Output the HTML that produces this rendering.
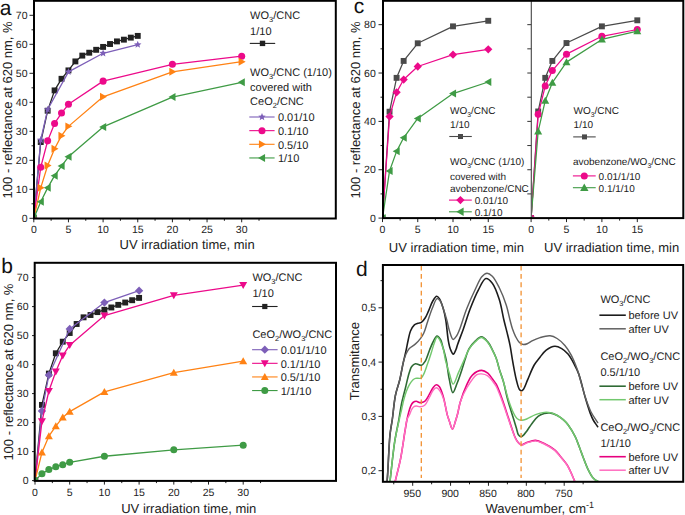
<!DOCTYPE html>
<html><head><meta charset="utf-8"><style>
html,body{margin:0;padding:0;background:#fff;}
body{width:685px;height:515px;overflow:hidden;}
svg{display:block;font-family:"Liberation Sans", sans-serif;text-rendering:geometricPrecision;}
</style></head><body>
<svg width="685" height="515" viewBox="0 0 685 515">
<rect width="685" height="515" fill="#fff"/>
<defs><clipPath id="ca"><rect x="34" y="1" width="301" height="216.5"/></clipPath><clipPath id="cb"><rect x="35" y="263.5" width="300" height="217"/></clipPath><clipPath id="cc"><rect x="383.5" y="1" width="299" height="216.5"/></clipPath><clipPath id="cd"><rect x="383.5" y="265.8" width="299" height="215.2"/></clipPath><clipPath id="cc1"><rect x="384" y="1" width="147" height="216"/></clipPath><clipPath id="cc2"><rect x="531.9" y="1" width="151" height="216"/></clipPath></defs>
<line x1="29.5" y1="218.3" x2="34" y2="218.3" stroke="#222" stroke-width="1" />
<text x="27.5" y="221.9" font-size="10.5" text-anchor="end" fill="#222" >0</text>
<line x1="29.5" y1="189.3" x2="34" y2="189.3" stroke="#222" stroke-width="1" />
<text x="27.5" y="192.9" font-size="10.5" text-anchor="end" fill="#222" >10</text>
<line x1="29.5" y1="160.3" x2="34" y2="160.3" stroke="#222" stroke-width="1" />
<text x="27.5" y="163.9" font-size="10.5" text-anchor="end" fill="#222" >20</text>
<line x1="29.5" y1="131.3" x2="34" y2="131.3" stroke="#222" stroke-width="1" />
<text x="27.5" y="134.9" font-size="10.5" text-anchor="end" fill="#222" >30</text>
<line x1="29.5" y1="102.3" x2="34" y2="102.3" stroke="#222" stroke-width="1" />
<text x="27.5" y="105.9" font-size="10.5" text-anchor="end" fill="#222" >40</text>
<line x1="29.5" y1="73.3" x2="34" y2="73.3" stroke="#222" stroke-width="1" />
<text x="27.5" y="76.9" font-size="10.5" text-anchor="end" fill="#222" >50</text>
<line x1="29.5" y1="44.3" x2="34" y2="44.3" stroke="#222" stroke-width="1" />
<text x="27.5" y="47.9" font-size="10.5" text-anchor="end" fill="#222" >60</text>
<line x1="29.5" y1="15.3" x2="34" y2="15.3" stroke="#222" stroke-width="1" />
<text x="27.5" y="18.9" font-size="10.5" text-anchor="end" fill="#222" >70</text>
<line x1="31.5" y1="203.8" x2="34" y2="203.8" stroke="#222" stroke-width="1" />
<line x1="31.5" y1="174.8" x2="34" y2="174.8" stroke="#222" stroke-width="1" />
<line x1="31.5" y1="145.8" x2="34" y2="145.8" stroke="#222" stroke-width="1" />
<line x1="31.5" y1="116.8" x2="34" y2="116.8" stroke="#222" stroke-width="1" />
<line x1="31.5" y1="87.8" x2="34" y2="87.8" stroke="#222" stroke-width="1" />
<line x1="31.5" y1="58.8" x2="34" y2="58.8" stroke="#222" stroke-width="1" />
<line x1="31.5" y1="29.8" x2="34" y2="29.8" stroke="#222" stroke-width="1" />
<line x1="33.8" y1="218.3" x2="33.8" y2="222.3" stroke="#222" stroke-width="1" />
<text x="33.8" y="233" font-size="10.5" text-anchor="middle" fill="#222" >0</text>
<line x1="68.45" y1="218.3" x2="68.45" y2="222.3" stroke="#222" stroke-width="1" />
<text x="68.45" y="233" font-size="10.5" text-anchor="middle" fill="#222" >5</text>
<line x1="103.1" y1="218.3" x2="103.1" y2="222.3" stroke="#222" stroke-width="1" />
<text x="103.1" y="233" font-size="10.5" text-anchor="middle" fill="#222" >10</text>
<line x1="137.75" y1="218.3" x2="137.75" y2="222.3" stroke="#222" stroke-width="1" />
<text x="137.75" y="233" font-size="10.5" text-anchor="middle" fill="#222" >15</text>
<line x1="172.4" y1="218.3" x2="172.4" y2="222.3" stroke="#222" stroke-width="1" />
<text x="172.4" y="233" font-size="10.5" text-anchor="middle" fill="#222" >20</text>
<line x1="207.05" y1="218.3" x2="207.05" y2="222.3" stroke="#222" stroke-width="1" />
<text x="207.05" y="233" font-size="10.5" text-anchor="middle" fill="#222" >25</text>
<line x1="241.7" y1="218.3" x2="241.7" y2="222.3" stroke="#222" stroke-width="1" />
<text x="241.7" y="233" font-size="10.5" text-anchor="middle" fill="#222" >30</text>
<line x1="51.12" y1="218.3" x2="51.12" y2="220.8" stroke="#222" stroke-width="1" />
<line x1="85.77" y1="218.3" x2="85.77" y2="220.8" stroke="#222" stroke-width="1" />
<line x1="120.42" y1="218.3" x2="120.42" y2="220.8" stroke="#222" stroke-width="1" />
<line x1="155.07" y1="218.3" x2="155.07" y2="220.8" stroke="#222" stroke-width="1" />
<line x1="189.72" y1="218.3" x2="189.72" y2="220.8" stroke="#222" stroke-width="1" />
<line x1="224.38" y1="218.3" x2="224.38" y2="220.8" stroke="#222" stroke-width="1" />
<line x1="259.02" y1="218.3" x2="259.02" y2="220.8" stroke="#222" stroke-width="1" />
<g clip-path="url(#ca)">
<polyline points="33.8,218.3 40.73,142.03 47.66,110.71 54.59,90.41 61.52,78.81 68.45,70.4 75.38,61.41 82.31,55.61 89.24,52.71 96.17,49.81 103.1,46.91 110.03,44.01 116.96,41.4 123.89,39.66 130.82,37.63 137.75,35.89" fill="none" stroke="#222222" stroke-width="1.3" stroke-linejoin="round" />
<rect x="30.85" y="215.35" width="5.9" height="5.9" fill="#222222"/>
<rect x="37.78" y="139.08" width="5.9" height="5.9" fill="#222222"/>
<rect x="44.71" y="107.76" width="5.9" height="5.9" fill="#222222"/>
<rect x="51.64" y="87.46" width="5.9" height="5.9" fill="#222222"/>
<rect x="58.57" y="75.86" width="5.9" height="5.9" fill="#222222"/>
<rect x="65.5" y="67.45" width="5.9" height="5.9" fill="#222222"/>
<rect x="72.43" y="58.46" width="5.9" height="5.9" fill="#222222"/>
<rect x="79.36" y="52.66" width="5.9" height="5.9" fill="#222222"/>
<rect x="86.29" y="49.76" width="5.9" height="5.9" fill="#222222"/>
<rect x="93.22" y="46.86" width="5.9" height="5.9" fill="#222222"/>
<rect x="100.15" y="43.96" width="5.9" height="5.9" fill="#222222"/>
<rect x="107.08" y="41.06" width="5.9" height="5.9" fill="#222222"/>
<rect x="114.01" y="38.45" width="5.9" height="5.9" fill="#222222"/>
<rect x="120.94" y="36.71" width="5.9" height="5.9" fill="#222222"/>
<rect x="127.87" y="34.68" width="5.9" height="5.9" fill="#222222"/>
<rect x="134.8" y="32.94" width="5.9" height="5.9" fill="#222222"/>
<polyline points="33.8,218.3 40.73,140 47.66,109.55 68.45,71.85 103.1,53.29 137.75,44.59" fill="none" stroke="#7d5fb8" stroke-width="1.3" stroke-linejoin="round" />
<polygon points="33.8,214.4 34.83,216.88 37.51,217.09 35.47,218.84 36.09,221.46 33.8,220.06 31.51,221.46 32.13,218.84 30.09,217.09 32.77,216.88" fill="#7d5fb8"/>
<polygon points="40.73,136.1 41.76,138.58 44.44,138.79 42.4,140.54 43.02,143.16 40.73,141.75 38.44,143.16 39.06,140.54 37.02,138.79 39.7,138.58" fill="#7d5fb8"/>
<polygon points="47.66,105.65 48.69,108.13 51.37,108.34 49.33,110.09 49.95,112.71 47.66,111.31 45.37,112.71 45.99,110.09 43.95,108.34 46.63,108.13" fill="#7d5fb8"/>
<polygon points="68.45,67.95 69.48,70.43 72.16,70.64 70.12,72.39 70.74,75.01 68.45,73.61 66.16,75.01 66.78,72.39 64.74,70.64 67.42,70.43" fill="#7d5fb8"/>
<polygon points="103.1,49.39 104.13,51.87 106.81,52.08 104.77,53.83 105.39,56.45 103.1,55.05 100.81,56.45 101.43,53.83 99.39,52.08 102.07,51.87" fill="#7d5fb8"/>
<polygon points="137.75,40.69 138.78,43.17 141.46,43.38 139.42,45.13 140.04,47.75 137.75,46.35 135.46,47.75 136.08,45.13 134.04,43.38 136.72,43.17" fill="#7d5fb8"/>
<polyline points="33.8,218.3 40.73,167.26 47.66,140.87 54.59,123.47 61.52,113.03 68.45,104.33 103.1,81.13 172.4,64.31 241.7,56.19" fill="none" stroke="#ec0a8a" stroke-width="1.3" stroke-linejoin="round" />
<circle cx="33.8" cy="218.3" r="3.51" fill="#ec0a8a"/>
<circle cx="40.73" cy="167.26" r="3.51" fill="#ec0a8a"/>
<circle cx="47.66" cy="140.87" r="3.51" fill="#ec0a8a"/>
<circle cx="54.59" cy="123.47" r="3.51" fill="#ec0a8a"/>
<circle cx="61.52" cy="113.03" r="3.51" fill="#ec0a8a"/>
<circle cx="68.45" cy="104.33" r="3.51" fill="#ec0a8a"/>
<circle cx="103.1" cy="81.13" r="3.51" fill="#ec0a8a"/>
<circle cx="172.4" cy="64.31" r="3.51" fill="#ec0a8a"/>
<circle cx="241.7" cy="56.19" r="3.51" fill="#ec0a8a"/>
<polyline points="33.8,218.3 40.73,187.85 47.66,165.52 54.59,148.7 61.52,135.65 68.45,126.37 103.1,96.79 172.4,71.85 241.7,61.7" fill="none" stroke="#ff8214" stroke-width="1.3" stroke-linejoin="round" />
<polygon points="37.73,218.3 30.71,222.29 30.71,214.31" fill="#ff8214"/>
<polygon points="44.66,187.85 37.64,191.84 37.64,183.86" fill="#ff8214"/>
<polygon points="51.59,165.52 44.57,169.51 44.57,161.53" fill="#ff8214"/>
<polygon points="58.52,148.7 51.5,152.69 51.5,144.71" fill="#ff8214"/>
<polygon points="65.45,135.65 58.43,139.64 58.43,131.66" fill="#ff8214"/>
<polygon points="72.38,126.37 65.36,130.36 65.36,122.38" fill="#ff8214"/>
<polygon points="107.03,96.79 100.01,100.78 100.01,92.8" fill="#ff8214"/>
<polygon points="176.33,71.85 169.31,75.84 169.31,67.86" fill="#ff8214"/>
<polygon points="245.63,61.7 238.61,65.69 238.61,57.71" fill="#ff8214"/>
<polyline points="33.8,218.3 40.73,201.77 47.66,187.85 54.59,175.67 61.52,166.1 68.45,156.82 103.1,126.95 172.4,97.08 241.7,82.29" fill="none" stroke="#3f9b45" stroke-width="1.3" stroke-linejoin="round" />
<polygon points="29.87,218.3 36.89,222.29 36.89,214.31" fill="#3f9b45"/>
<polygon points="36.8,201.77 43.82,205.76 43.82,197.78" fill="#3f9b45"/>
<polygon points="43.73,187.85 50.75,191.84 50.75,183.86" fill="#3f9b45"/>
<polygon points="50.66,175.67 57.68,179.66 57.68,171.68" fill="#3f9b45"/>
<polygon points="57.59,166.1 64.61,170.09 64.61,162.11" fill="#3f9b45"/>
<polygon points="64.52,156.82 71.54,160.81 71.54,152.83" fill="#3f9b45"/>
<polygon points="99.17,126.95 106.19,130.94 106.19,122.96" fill="#3f9b45"/>
<polygon points="168.47,97.08 175.49,101.07 175.49,93.09" fill="#3f9b45"/>
<polygon points="237.77,82.29 244.79,86.28 244.79,78.3" fill="#3f9b45"/>
</g>
<rect x="34" y="0.8" width="301.8" height="217.7" fill="none" stroke="#000" stroke-width="2"/>
<text x="-0.3" y="14.8" font-size="21" text-anchor="start" fill="#111" >a</text>
<text transform="translate(11.6,109.9) rotate(-90)" font-size="13" text-anchor="middle" fill="#222">100 - reflectance at 620 nm, %</text>
<text x="187.1" y="249" font-size="13" text-anchor="middle" fill="#222" >UV irradiation time, min</text>
<text x="250.1" y="18.7" font-size="11" fill="#222">WO<tspan font-size="7.48" dy="3.08">3</tspan><tspan dy="-3.08">/CNC</tspan></text>
<text x="250.1" y="34.5" font-size="11" text-anchor="start" fill="#222" >1/10</text>
<line x1="249.8" y1="43.4" x2="275.2" y2="43.4" stroke="#222222" stroke-width="1.1" />
<rect x="259.8" y="40.7" width="5.4" height="5.4" fill="#222222"/>
<text x="250.1" y="75.8" font-size="11" fill="#222">WO<tspan font-size="7.48" dy="3.08">3</tspan><tspan dy="-3.08">/CNC (1/10)</tspan></text>
<text x="250.1" y="91.4" font-size="11" text-anchor="start" fill="#222" >covered with</text>
<text x="250.1" y="105" font-size="11" fill="#222">CeO<tspan font-size="7.48" dy="3.08">2</tspan><tspan dy="-3.08">/CNC</tspan></text>
<line x1="249.3" y1="117" x2="274.6" y2="117" stroke="#7d5fb8" stroke-width="1.1" />
<polygon points="262,113.1 263.03,115.58 265.71,115.79 263.67,117.54 264.29,120.16 262,118.75 259.71,120.16 260.33,117.54 258.29,115.79 260.97,115.58" fill="#7d5fb8"/>
<text x="277.9" y="121.3" font-size="11" text-anchor="start" fill="#222" >0.01/10</text>
<line x1="249.3" y1="130.65" x2="274.6" y2="130.65" stroke="#ec0a8a" stroke-width="1.1" />
<circle cx="262" cy="130.65" r="3.51" fill="#ec0a8a"/>
<text x="277.9" y="134.95" font-size="11" text-anchor="start" fill="#222" >0.1/10</text>
<line x1="249.3" y1="144.3" x2="274.6" y2="144.3" stroke="#ff8214" stroke-width="1.1" />
<polygon points="265.93,144.3 258.91,148.29 258.91,140.31" fill="#ff8214"/>
<text x="277.9" y="148.6" font-size="11" text-anchor="start" fill="#222" >0.5/10</text>
<line x1="249.3" y1="157.95" x2="274.6" y2="157.95" stroke="#3f9b45" stroke-width="1.1" />
<polygon points="258.07,157.95 265.09,161.94 265.09,153.96" fill="#3f9b45"/>
<text x="277.9" y="162.25" font-size="11" text-anchor="start" fill="#222" >1/10</text>
<line x1="32" y1="480.6" x2="35" y2="480.6" stroke="#222" stroke-width="1" />
<text x="28.5" y="484.2" font-size="10.5" text-anchor="end" fill="#222" >0</text>
<line x1="32" y1="451.6" x2="35" y2="451.6" stroke="#222" stroke-width="1" />
<text x="28.5" y="455.2" font-size="10.5" text-anchor="end" fill="#222" >10</text>
<line x1="32" y1="422.6" x2="35" y2="422.6" stroke="#222" stroke-width="1" />
<text x="28.5" y="426.2" font-size="10.5" text-anchor="end" fill="#222" >20</text>
<line x1="32" y1="393.6" x2="35" y2="393.6" stroke="#222" stroke-width="1" />
<text x="28.5" y="397.2" font-size="10.5" text-anchor="end" fill="#222" >30</text>
<line x1="32" y1="364.6" x2="35" y2="364.6" stroke="#222" stroke-width="1" />
<text x="28.5" y="368.2" font-size="10.5" text-anchor="end" fill="#222" >40</text>
<line x1="32" y1="335.6" x2="35" y2="335.6" stroke="#222" stroke-width="1" />
<text x="28.5" y="339.2" font-size="10.5" text-anchor="end" fill="#222" >50</text>
<line x1="32" y1="306.6" x2="35" y2="306.6" stroke="#222" stroke-width="1" />
<text x="28.5" y="310.2" font-size="10.5" text-anchor="end" fill="#222" >60</text>
<line x1="32" y1="277.6" x2="35" y2="277.6" stroke="#222" stroke-width="1" />
<text x="28.5" y="281.2" font-size="10.5" text-anchor="end" fill="#222" >70</text>
<line x1="35" y1="480.6" x2="35" y2="484.6" stroke="#222" stroke-width="1" />
<text x="35" y="495.5" font-size="10.5" text-anchor="middle" fill="#222" >0</text>
<line x1="69.7" y1="480.6" x2="69.7" y2="484.6" stroke="#222" stroke-width="1" />
<text x="69.7" y="495.5" font-size="10.5" text-anchor="middle" fill="#222" >5</text>
<line x1="104.4" y1="480.6" x2="104.4" y2="484.6" stroke="#222" stroke-width="1" />
<text x="104.4" y="495.5" font-size="10.5" text-anchor="middle" fill="#222" >10</text>
<line x1="139.1" y1="480.6" x2="139.1" y2="484.6" stroke="#222" stroke-width="1" />
<text x="139.1" y="495.5" font-size="10.5" text-anchor="middle" fill="#222" >15</text>
<line x1="173.8" y1="480.6" x2="173.8" y2="484.6" stroke="#222" stroke-width="1" />
<text x="173.8" y="495.5" font-size="10.5" text-anchor="middle" fill="#222" >20</text>
<line x1="208.5" y1="480.6" x2="208.5" y2="484.6" stroke="#222" stroke-width="1" />
<text x="208.5" y="495.5" font-size="10.5" text-anchor="middle" fill="#222" >25</text>
<line x1="243.2" y1="480.6" x2="243.2" y2="484.6" stroke="#222" stroke-width="1" />
<text x="243.2" y="495.5" font-size="10.5" text-anchor="middle" fill="#222" >30</text>
<line x1="52.35" y1="480.6" x2="52.35" y2="483.1" stroke="#222" stroke-width="1" />
<line x1="87.05" y1="480.6" x2="87.05" y2="483.1" stroke="#222" stroke-width="1" />
<line x1="121.75" y1="480.6" x2="121.75" y2="483.1" stroke="#222" stroke-width="1" />
<line x1="156.45" y1="480.6" x2="156.45" y2="483.1" stroke="#222" stroke-width="1" />
<line x1="191.15" y1="480.6" x2="191.15" y2="483.1" stroke="#222" stroke-width="1" />
<line x1="225.85" y1="480.6" x2="225.85" y2="483.1" stroke="#222" stroke-width="1" />
<line x1="260.55" y1="480.6" x2="260.55" y2="483.1" stroke="#222" stroke-width="1" />
<g clip-path="url(#cb)">
<polyline points="35,480.6 41.94,404.91 48.88,373.59 55.82,353.29 62.76,341.69 69.7,332.99 76.64,324 83.58,317.33 90.52,315.01 97.46,312.11 104.4,309.79 111.34,307.47 118.28,304.86 125.22,302.54 132.16,300.22 139.1,297.9" fill="none" stroke="#222222" stroke-width="1.3" stroke-linejoin="round" />
<rect x="32.05" y="477.65" width="5.9" height="5.9" fill="#222222"/>
<rect x="38.99" y="401.96" width="5.9" height="5.9" fill="#222222"/>
<rect x="45.93" y="370.64" width="5.9" height="5.9" fill="#222222"/>
<rect x="52.87" y="350.34" width="5.9" height="5.9" fill="#222222"/>
<rect x="59.81" y="338.74" width="5.9" height="5.9" fill="#222222"/>
<rect x="66.75" y="330.04" width="5.9" height="5.9" fill="#222222"/>
<rect x="73.69" y="321.05" width="5.9" height="5.9" fill="#222222"/>
<rect x="80.63" y="314.38" width="5.9" height="5.9" fill="#222222"/>
<rect x="87.57" y="312.06" width="5.9" height="5.9" fill="#222222"/>
<rect x="94.51" y="309.16" width="5.9" height="5.9" fill="#222222"/>
<rect x="101.45" y="306.84" width="5.9" height="5.9" fill="#222222"/>
<rect x="108.39" y="304.52" width="5.9" height="5.9" fill="#222222"/>
<rect x="115.33" y="301.91" width="5.9" height="5.9" fill="#222222"/>
<rect x="122.27" y="299.59" width="5.9" height="5.9" fill="#222222"/>
<rect x="129.21" y="297.27" width="5.9" height="5.9" fill="#222222"/>
<rect x="136.15" y="294.95" width="5.9" height="5.9" fill="#222222"/>
<polyline points="35,480.6 41.94,411 48.88,375.04 69.7,328.93 104.4,302.54 139.1,290.65" fill="none" stroke="#7d5fb8" stroke-width="1.3" stroke-linejoin="round" />
<polygon points="35,476.46 39.14,480.6 35,484.74 30.86,480.6" fill="#7d5fb8"/>
<polygon points="41.94,406.86 46.08,411 41.94,415.14 37.8,411" fill="#7d5fb8"/>
<polygon points="48.88,370.9 53.02,375.04 48.88,379.18 44.74,375.04" fill="#7d5fb8"/>
<polygon points="69.7,324.79 73.84,328.93 69.7,333.07 65.56,328.93" fill="#7d5fb8"/>
<polygon points="104.4,298.4 108.54,302.54 104.4,306.68 100.26,302.54" fill="#7d5fb8"/>
<polygon points="139.1,286.51 143.24,290.65 139.1,294.79 134.96,290.65" fill="#7d5fb8"/>
<polyline points="35,480.6 41.94,421.44 48.88,390.99 55.82,371.56 62.76,355.61 69.7,345.17 104.4,315.59 173.8,295.29 243.2,285.14" fill="none" stroke="#ec0a8a" stroke-width="1.3" stroke-linejoin="round" />
<polygon points="35,484.53 38.99,477.51 31.01,477.51" fill="#ec0a8a"/>
<polygon points="41.94,425.37 45.93,418.35 37.95,418.35" fill="#ec0a8a"/>
<polygon points="48.88,394.92 52.87,387.9 44.89,387.9" fill="#ec0a8a"/>
<polygon points="55.82,375.49 59.81,368.47 51.83,368.47" fill="#ec0a8a"/>
<polygon points="62.76,359.54 66.75,352.52 58.77,352.52" fill="#ec0a8a"/>
<polygon points="69.7,349.1 73.69,342.08 65.71,342.08" fill="#ec0a8a"/>
<polygon points="104.4,319.52 108.39,312.5 100.41,312.5" fill="#ec0a8a"/>
<polygon points="173.8,299.22 177.79,292.2 169.81,292.2" fill="#ec0a8a"/>
<polygon points="243.2,289.07 247.19,282.05 239.21,282.05" fill="#ec0a8a"/>
<polyline points="35,480.6 41.94,452.47 48.88,436.23 55.82,426.08 62.76,417.38 69.7,411.58 104.4,391.86 173.8,372.72 243.2,361.12" fill="none" stroke="#ff8214" stroke-width="1.3" stroke-linejoin="round" />
<polygon points="35,476.67 38.99,483.69 31.01,483.69" fill="#ff8214"/>
<polygon points="41.94,448.54 45.93,455.56 37.95,455.56" fill="#ff8214"/>
<polygon points="48.88,432.3 52.87,439.32 44.89,439.32" fill="#ff8214"/>
<polygon points="55.82,422.15 59.81,429.17 51.83,429.17" fill="#ff8214"/>
<polygon points="62.76,413.45 66.75,420.47 58.77,420.47" fill="#ff8214"/>
<polygon points="69.7,407.65 73.69,414.67 65.71,414.67" fill="#ff8214"/>
<polygon points="104.4,387.93 108.39,394.95 100.41,394.95" fill="#ff8214"/>
<polygon points="173.8,368.79 177.79,375.81 169.81,375.81" fill="#ff8214"/>
<polygon points="243.2,357.19 247.19,364.21 239.21,364.21" fill="#ff8214"/>
<polyline points="35,480.6 41.94,473.64 48.88,469.58 55.82,466.68 62.76,464.65 69.7,462.33 104.4,456.24 173.8,449.86 243.2,445.22" fill="none" stroke="#3f9b45" stroke-width="1.3" stroke-linejoin="round" />
<circle cx="35" cy="480.6" r="3.51" fill="#3f9b45"/>
<circle cx="41.94" cy="473.64" r="3.51" fill="#3f9b45"/>
<circle cx="48.88" cy="469.58" r="3.51" fill="#3f9b45"/>
<circle cx="55.82" cy="466.68" r="3.51" fill="#3f9b45"/>
<circle cx="62.76" cy="464.65" r="3.51" fill="#3f9b45"/>
<circle cx="69.7" cy="462.33" r="3.51" fill="#3f9b45"/>
<circle cx="104.4" cy="456.24" r="3.51" fill="#3f9b45"/>
<circle cx="173.8" cy="449.86" r="3.51" fill="#3f9b45"/>
<circle cx="243.2" cy="445.22" r="3.51" fill="#3f9b45"/>
</g>
<rect x="34.7" y="262.8" width="301.3" height="218.1" fill="none" stroke="#000" stroke-width="2"/>
<text x="1.2" y="272.8" font-size="21" text-anchor="start" fill="#111" >b</text>
<text transform="translate(12.6,372.1) rotate(-90)" font-size="13" text-anchor="middle" fill="#222">100 - reflectance at 620 nm, %</text>
<text x="188.8" y="512.9" font-size="13" text-anchor="middle" fill="#222" >UV irradiation time, min</text>
<text x="252.4" y="281.2" font-size="11" fill="#222">WO<tspan font-size="7.48" dy="3.08">3</tspan><tspan dy="-3.08">/CNC</tspan></text>
<text x="252.4" y="297.2" font-size="11" text-anchor="start" fill="#222" >1/10</text>
<line x1="252.1" y1="306.5" x2="277.6" y2="306.5" stroke="#222222" stroke-width="1.1" />
<rect x="262.2" y="303.9" width="5.2" height="5.2" fill="#222222"/>
<text x="252.4" y="337.9" font-size="11" fill="#222">CeO<tspan font-size="7.48" dy="3.08">2</tspan><tspan dy="-3.08">/WO</tspan><tspan font-size="7.48" dy="3.08">3</tspan><tspan dy="-3.08">/CNC</tspan></text>
<line x1="252.1" y1="349.7" x2="277.6" y2="349.7" stroke="#7d5fb8" stroke-width="1.1" />
<polygon points="264.8,345.56 268.94,349.7 264.8,353.84 260.66,349.7" fill="#7d5fb8"/>
<text x="280.7" y="354" font-size="11" text-anchor="start" fill="#222" >0.01/1/10</text>
<line x1="252.1" y1="363.32" x2="277.6" y2="363.32" stroke="#ec0a8a" stroke-width="1.1" />
<polygon points="264.8,367.25 268.79,360.23 260.81,360.23" fill="#ec0a8a"/>
<text x="280.7" y="367.62" font-size="11" text-anchor="start" fill="#222" >0.1/1/10</text>
<line x1="252.1" y1="376.94" x2="277.6" y2="376.94" stroke="#ff8214" stroke-width="1.1" />
<polygon points="264.8,373.01 268.79,380.03 260.81,380.03" fill="#ff8214"/>
<text x="280.7" y="381.24" font-size="11" text-anchor="start" fill="#222" >0.5/1/10</text>
<line x1="252.1" y1="390.56" x2="277.6" y2="390.56" stroke="#3f9b45" stroke-width="1.1" />
<circle cx="264.8" cy="390.56" r="3.51" fill="#3f9b45"/>
<text x="280.7" y="394.86" font-size="11" text-anchor="start" fill="#222" >1/1/10</text>
<line x1="378.5" y1="218.1" x2="383" y2="218.1" stroke="#222" stroke-width="1" />
<text x="375.8" y="221.7" font-size="10.5" text-anchor="end" fill="#222" >0</text>
<line x1="378.5" y1="169.74" x2="383" y2="169.74" stroke="#222" stroke-width="1" />
<text x="375.8" y="173.34" font-size="10.5" text-anchor="end" fill="#222" >20</text>
<line x1="378.5" y1="121.38" x2="383" y2="121.38" stroke="#222" stroke-width="1" />
<text x="375.8" y="124.98" font-size="10.5" text-anchor="end" fill="#222" >40</text>
<line x1="378.5" y1="73.02" x2="383" y2="73.02" stroke="#222" stroke-width="1" />
<text x="375.8" y="76.62" font-size="10.5" text-anchor="end" fill="#222" >60</text>
<line x1="378.5" y1="24.66" x2="383" y2="24.66" stroke="#222" stroke-width="1" />
<text x="375.8" y="28.26" font-size="10.5" text-anchor="end" fill="#222" >80</text>
<line x1="380.5" y1="193.92" x2="383" y2="193.92" stroke="#222" stroke-width="1" />
<line x1="380.5" y1="145.56" x2="383" y2="145.56" stroke="#222" stroke-width="1" />
<line x1="380.5" y1="97.2" x2="383" y2="97.2" stroke="#222" stroke-width="1" />
<line x1="380.5" y1="48.84" x2="383" y2="48.84" stroke="#222" stroke-width="1" />
<line x1="527.3" y1="193.92" x2="531.3" y2="193.92" stroke="#333" stroke-width="1" />
<line x1="527.3" y1="169.74" x2="531.3" y2="169.74" stroke="#333" stroke-width="1" />
<line x1="527.3" y1="145.56" x2="531.3" y2="145.56" stroke="#333" stroke-width="1" />
<line x1="527.3" y1="121.38" x2="531.3" y2="121.38" stroke="#333" stroke-width="1" />
<line x1="527.3" y1="97.2" x2="531.3" y2="97.2" stroke="#333" stroke-width="1" />
<line x1="527.3" y1="73.02" x2="531.3" y2="73.02" stroke="#333" stroke-width="1" />
<line x1="527.3" y1="48.84" x2="531.3" y2="48.84" stroke="#333" stroke-width="1" />
<line x1="527.3" y1="24.66" x2="531.3" y2="24.66" stroke="#333" stroke-width="1" />
<line x1="382.5" y1="218.1" x2="382.5" y2="222.1" stroke="#222" stroke-width="1" />
<text x="382.5" y="233" font-size="10.5" text-anchor="middle" fill="#222" >0</text>
<line x1="417.75" y1="218.1" x2="417.75" y2="222.1" stroke="#222" stroke-width="1" />
<text x="417.75" y="233" font-size="10.5" text-anchor="middle" fill="#222" >5</text>
<line x1="453" y1="218.1" x2="453" y2="222.1" stroke="#222" stroke-width="1" />
<text x="453" y="233" font-size="10.5" text-anchor="middle" fill="#222" >10</text>
<line x1="488.25" y1="218.1" x2="488.25" y2="222.1" stroke="#222" stroke-width="1" />
<text x="488.25" y="233" font-size="10.5" text-anchor="middle" fill="#222" >15</text>
<line x1="400.12" y1="218.1" x2="400.12" y2="220.6" stroke="#222" stroke-width="1" />
<line x1="435.38" y1="218.1" x2="435.38" y2="220.6" stroke="#222" stroke-width="1" />
<line x1="470.62" y1="218.1" x2="470.62" y2="220.6" stroke="#222" stroke-width="1" />
<line x1="531.1" y1="218.1" x2="531.1" y2="222.1" stroke="#222" stroke-width="1" />
<text x="531.1" y="233" font-size="10.5" text-anchor="middle" fill="#222" >0</text>
<line x1="566.5" y1="218.1" x2="566.5" y2="222.1" stroke="#222" stroke-width="1" />
<text x="566.5" y="233" font-size="10.5" text-anchor="middle" fill="#222" >5</text>
<line x1="601.9" y1="218.1" x2="601.9" y2="222.1" stroke="#222" stroke-width="1" />
<text x="601.9" y="233" font-size="10.5" text-anchor="middle" fill="#222" >10</text>
<line x1="637.3" y1="218.1" x2="637.3" y2="222.1" stroke="#222" stroke-width="1" />
<text x="637.3" y="233" font-size="10.5" text-anchor="middle" fill="#222" >15</text>
<line x1="548.8" y1="218.1" x2="548.8" y2="220.6" stroke="#222" stroke-width="1" />
<line x1="584.2" y1="218.1" x2="584.2" y2="220.6" stroke="#222" stroke-width="1" />
<line x1="619.6" y1="218.1" x2="619.6" y2="220.6" stroke="#222" stroke-width="1" />
<line x1="531.3" y1="0" x2="531.3" y2="218" stroke="#444" stroke-width="1.1" />
<g clip-path="url(#cc1)">
<polyline points="382.5,218.1 389.55,111.71 396.6,77.86 403.65,60.93 417.75,43.28 453,26.35 488.25,20.79" fill="none" stroke="#4a4a4a" stroke-width="1.25" stroke-linejoin="round" />
<rect x="379.55" y="215.15" width="5.9" height="5.9" fill="#4a4a4a"/>
<rect x="386.6" y="108.76" width="5.9" height="5.9" fill="#4a4a4a"/>
<rect x="393.65" y="74.91" width="5.9" height="5.9" fill="#4a4a4a"/>
<rect x="400.7" y="57.98" width="5.9" height="5.9" fill="#4a4a4a"/>
<rect x="414.8" y="40.33" width="5.9" height="5.9" fill="#4a4a4a"/>
<rect x="450.05" y="23.4" width="5.9" height="5.9" fill="#4a4a4a"/>
<rect x="485.3" y="17.84" width="5.9" height="5.9" fill="#4a4a4a"/>
<polyline points="382.5,218.1 389.55,116.54 396.6,92.36 403.65,79.55 417.75,66.49 453,54.64 488.25,49.32" fill="none" stroke="#ec0a8a" stroke-width="1.25" stroke-linejoin="round" />
<polygon points="382.5,213.96 386.64,218.1 382.5,222.24 378.36,218.1" fill="#ec0a8a"/>
<polygon points="389.55,112.4 393.69,116.54 389.55,120.68 385.41,116.54" fill="#ec0a8a"/>
<polygon points="396.6,88.22 400.74,92.36 396.6,96.5 392.46,92.36" fill="#ec0a8a"/>
<polygon points="403.65,75.41 407.79,79.55 403.65,83.69 399.51,79.55" fill="#ec0a8a"/>
<polygon points="417.75,62.35 421.89,66.49 417.75,70.63 413.61,66.49" fill="#ec0a8a"/>
<polygon points="453,50.5 457.14,54.64 453,58.78 448.86,54.64" fill="#ec0a8a"/>
<polygon points="488.25,45.18 492.39,49.32 488.25,53.46 484.11,49.32" fill="#ec0a8a"/>
<polyline points="382.5,218.1 389.55,170.95 396.6,151.36 403.65,137.82 417.75,118.48 453,93.57 488.25,81.97" fill="none" stroke="#3f9b45" stroke-width="1.25" stroke-linejoin="round" />
<polygon points="378.57,218.1 385.59,222.09 385.59,214.11" fill="#3f9b45"/>
<polygon points="385.62,170.95 392.64,174.94 392.64,166.96" fill="#3f9b45"/>
<polygon points="392.67,151.36 399.69,155.35 399.69,147.37" fill="#3f9b45"/>
<polygon points="399.72,137.82 406.74,141.81 406.74,133.83" fill="#3f9b45"/>
<polygon points="413.82,118.48 420.84,122.47 420.84,114.49" fill="#3f9b45"/>
<polygon points="449.07,93.57 456.09,97.56 456.09,89.58" fill="#3f9b45"/>
<polygon points="484.32,81.97 491.34,85.96 491.34,77.98" fill="#3f9b45"/>
</g>
<g clip-path="url(#cc2)">
<polyline points="531.1,218.1 538.18,111.47 545.26,77.86 552.34,60.93 566.5,43.04 601.9,26.35 637.3,20.31" fill="none" stroke="#4a4a4a" stroke-width="1.25" stroke-linejoin="round" />
<rect x="528.15" y="215.15" width="5.9" height="5.9" fill="#4a4a4a"/>
<rect x="535.23" y="108.52" width="5.9" height="5.9" fill="#4a4a4a"/>
<rect x="542.31" y="74.91" width="5.9" height="5.9" fill="#4a4a4a"/>
<rect x="549.39" y="57.98" width="5.9" height="5.9" fill="#4a4a4a"/>
<rect x="563.55" y="40.09" width="5.9" height="5.9" fill="#4a4a4a"/>
<rect x="598.95" y="23.4" width="5.9" height="5.9" fill="#4a4a4a"/>
<rect x="634.35" y="17.36" width="5.9" height="5.9" fill="#4a4a4a"/>
<polyline points="531.1,218.1 538.18,114.37 545.26,86.08 552.34,70.6 566.5,54.16 601.9,36.27 637.3,29.5" fill="none" stroke="#ec0a8a" stroke-width="1.25" stroke-linejoin="round" />
<circle cx="531.1" cy="218.1" r="3.51" fill="#ec0a8a"/>
<circle cx="538.18" cy="114.37" r="3.51" fill="#ec0a8a"/>
<circle cx="545.26" cy="86.08" r="3.51" fill="#ec0a8a"/>
<circle cx="552.34" cy="70.6" r="3.51" fill="#ec0a8a"/>
<circle cx="566.5" cy="54.16" r="3.51" fill="#ec0a8a"/>
<circle cx="601.9" cy="36.27" r="3.51" fill="#ec0a8a"/>
<circle cx="637.3" cy="29.5" r="3.51" fill="#ec0a8a"/>
<polyline points="531.1,218.1 538.18,131.29 545.26,100.59 552.34,82.69 566.5,62.14 601.9,39.41 637.3,31.19" fill="none" stroke="#3f9b45" stroke-width="1.25" stroke-linejoin="round" />
<polygon points="531.1,214.17 535.09,221.19 527.11,221.19" fill="#3f9b45"/>
<polygon points="538.18,127.36 542.17,134.38 534.19,134.38" fill="#3f9b45"/>
<polygon points="545.26,96.65 549.25,103.67 541.27,103.67" fill="#3f9b45"/>
<polygon points="552.34,78.76 556.33,85.78 548.35,85.78" fill="#3f9b45"/>
<polygon points="566.5,58.21 570.49,65.23 562.51,65.23" fill="#3f9b45"/>
<polygon points="601.9,35.48 605.89,42.5 597.91,42.5" fill="#3f9b45"/>
<polygon points="637.3,27.26 641.29,34.28 633.31,34.28" fill="#3f9b45"/>
</g>
<rect x="383" y="0.8" width="300.3" height="217.3" fill="none" stroke="#000" stroke-width="2"/>
<text x="353.8" y="12.9" font-size="21" text-anchor="start" fill="#111" >c</text>
<text transform="translate(360.2,109.9) rotate(-90)" font-size="13" text-anchor="middle" fill="#222">100 - reflectance at 620 nm, %</text>
<text x="456.4" y="251.8" font-size="13" text-anchor="middle" fill="#222" >UV irradiation time, min</text>
<text x="611.6" y="251.8" font-size="13" text-anchor="middle" fill="#222" >UV irradiation time, min</text>
<text x="450.1" y="114" font-size="10" fill="#222">WO<tspan font-size="6.8" dy="2.8">3</tspan><tspan dy="-2.8">/CNC</tspan></text>
<text x="450.1" y="128" font-size="10" text-anchor="start" fill="#222" >1/10</text>
<line x1="449.3" y1="136.5" x2="471.8" y2="136.5" stroke="#4a4a4a" stroke-width="1.1" />
<rect x="458" y="134" width="5" height="5" fill="#4a4a4a"/>
<text x="450.1" y="164.8" font-size="10" fill="#222">WO<tspan font-size="6.8" dy="2.8">3</tspan><tspan dy="-2.8">/CNC (1/10)</tspan></text>
<text x="449.9" y="179.7" font-size="10" text-anchor="start" fill="#222" >covered with</text>
<text x="449.9" y="191.8" font-size="10" text-anchor="start" fill="#222" >avobenzone/CNC</text>
<line x1="449" y1="200.1" x2="471.8" y2="200.1" stroke="#ec0a8a" stroke-width="1.1" />
<polygon points="460.4,195.96 464.54,200.1 460.4,204.24 456.26,200.1" fill="#ec0a8a"/>
<text x="474.7" y="204.2" font-size="10" text-anchor="start" fill="#222" >0.01/10</text>
<line x1="449" y1="211.8" x2="471.8" y2="211.8" stroke="#3f9b45" stroke-width="1.1" />
<polygon points="456.27,211.8 463.64,215.99 463.64,207.61" fill="#3f9b45"/>
<text x="474.7" y="215.9" font-size="10" text-anchor="start" fill="#222" >0.1/10</text>
<text x="573.6" y="113.8" font-size="10" fill="#222">WO<tspan font-size="6.8" dy="2.8">3</tspan><tspan dy="-2.8">/CNC</tspan></text>
<text x="573.6" y="128.1" font-size="10" text-anchor="start" fill="#222" >1/10</text>
<line x1="573.2" y1="136.9" x2="595.7" y2="136.9" stroke="#4a4a4a" stroke-width="1.1" />
<rect x="582" y="134.4" width="5" height="5" fill="#4a4a4a"/>
<text x="572.9" y="165.2" font-size="10" fill="#222">avobenzone/WO<tspan font-size="6.8" dy="2.8">3</tspan><tspan dy="-2.8">/CNC</tspan></text>
<line x1="572.9" y1="175.9" x2="595.7" y2="175.9" stroke="#ec0a8a" stroke-width="1.1" />
<circle cx="584.3" cy="175.9" r="3.51" fill="#ec0a8a"/>
<text x="598.6" y="180" font-size="10" text-anchor="start" fill="#222" >0.01/1/10</text>
<line x1="572.9" y1="187.7" x2="595.7" y2="187.7" stroke="#3f9b45" stroke-width="1.1" />
<polygon points="584.3,183.57 588.49,190.94 580.11,190.94" fill="#3f9b45"/>
<text x="598.6" y="191.8" font-size="10" text-anchor="start" fill="#222" >0.1/1/10</text>
<line x1="378.5" y1="470.7" x2="383" y2="470.7" stroke="#222" stroke-width="1" />
<text x="376.2" y="474.3" font-size="10.5" text-anchor="end" fill="#222" >0,2</text>
<line x1="378.5" y1="416.4" x2="383" y2="416.4" stroke="#222" stroke-width="1" />
<text x="376.2" y="420" font-size="10.5" text-anchor="end" fill="#222" >0,3</text>
<line x1="378.5" y1="362.1" x2="383" y2="362.1" stroke="#222" stroke-width="1" />
<text x="376.2" y="365.7" font-size="10.5" text-anchor="end" fill="#222" >0,4</text>
<line x1="378.5" y1="307.8" x2="383" y2="307.8" stroke="#222" stroke-width="1" />
<text x="376.2" y="311.4" font-size="10.5" text-anchor="end" fill="#222" >0,5</text>
<line x1="380.5" y1="443.55" x2="383" y2="443.55" stroke="#222" stroke-width="1" />
<line x1="380.5" y1="389.25" x2="383" y2="389.25" stroke="#222" stroke-width="1" />
<line x1="380.5" y1="334.95" x2="383" y2="334.95" stroke="#222" stroke-width="1" />
<line x1="380.5" y1="280.65" x2="383" y2="280.65" stroke="#222" stroke-width="1" />
<line x1="412.7" y1="481.8" x2="412.7" y2="485.8" stroke="#222" stroke-width="1" />
<text x="412.3" y="497" font-size="10.5" text-anchor="middle" fill="#222" >950</text>
<line x1="450.57" y1="481.8" x2="450.57" y2="485.8" stroke="#222" stroke-width="1" />
<text x="450.18" y="497" font-size="10.5" text-anchor="middle" fill="#222" >900</text>
<line x1="488.45" y1="481.8" x2="488.45" y2="485.8" stroke="#222" stroke-width="1" />
<text x="488.05" y="497" font-size="10.5" text-anchor="middle" fill="#222" >850</text>
<line x1="526.32" y1="481.8" x2="526.32" y2="485.8" stroke="#222" stroke-width="1" />
<text x="525.92" y="497" font-size="10.5" text-anchor="middle" fill="#222" >800</text>
<line x1="564.2" y1="481.8" x2="564.2" y2="485.8" stroke="#222" stroke-width="1" />
<text x="563.8" y="497" font-size="10.5" text-anchor="middle" fill="#222" >750</text>
<line x1="393.76" y1="481.8" x2="393.76" y2="484.3" stroke="#222" stroke-width="1" />
<line x1="431.64" y1="481.8" x2="431.64" y2="484.3" stroke="#222" stroke-width="1" />
<line x1="469.51" y1="481.8" x2="469.51" y2="484.3" stroke="#222" stroke-width="1" />
<line x1="507.39" y1="481.8" x2="507.39" y2="484.3" stroke="#222" stroke-width="1" />
<line x1="545.26" y1="481.8" x2="545.26" y2="484.3" stroke="#222" stroke-width="1" />
<line x1="583.14" y1="481.8" x2="583.14" y2="484.3" stroke="#222" stroke-width="1" />
<text x="356" y="275.8" font-size="21" text-anchor="start" fill="#111" >d</text>
<text transform="translate(359.4,361.2) rotate(-90)" font-size="13" text-anchor="middle" fill="#222">Transmitance</text>
<text x="485.4" y="513" font-size="13" fill="#222">Wavenumber, cm<tspan font-size="9" dy="-5">-1</tspan></text>
<g clip-path="url(#cd)">
<path d="M394.3,486 C394.63,484.33 394.81,483.25 395.3,481 C396.33,476.29 398.96,466.96 400.5,459.2 C402.24,450.43 403.78,438.32 405,431 C405.78,426.32 406.32,422.84 407,419.5 C407.53,416.9 407.96,414.89 408.6,412.6 C409.25,410.26 410.01,407.42 410.9,405.6 C411.54,404.3 412.08,403.22 413,402.5 C413.89,401.8 415.17,401.31 416.3,401.3 C417.5,401.29 418.68,402.54 420,402.6 C421.46,402.66 423.31,402.39 424.7,401.4 C426.53,400.09 427.87,396.76 429.3,394.4 C430.7,392.09 431.82,389.11 433.2,387.4 C434.19,386.18 435.24,384.78 436.3,384.7 C437.31,384.63 438.47,385.56 439.4,386.7 C440.99,388.65 442.13,392.83 443.3,396.7 C444.83,401.75 445.99,410.16 447.2,414.6 C447.93,417.29 448.49,418.75 449.3,421 C450.22,423.55 451.46,429.11 452.5,429.1 C453.53,429.09 454.64,423.59 455.5,421 C456.28,418.67 456.82,416.88 457.5,414.3 C458.41,410.83 459,406.35 460.3,402 C461.83,396.88 464.14,390.42 466.4,385.6 C468.31,381.54 469.86,377.36 472.6,374.8 C475.06,372.5 478.87,370.44 481.6,370.4 C483.85,370.37 485.96,371.76 487.8,373.2 C489.88,374.82 491.68,377.99 493.2,380 C494.37,381.55 495.17,382.33 496.2,384.2 C497.92,387.32 499.77,392.57 501.6,397.5 C503.83,403.52 506.5,412.08 508.4,417.8 C509.79,421.99 510.81,425.27 512,428.7 C513.07,431.8 514.08,435.09 515.2,437.5 C516.04,439.29 516.73,440.76 517.8,442 C518.79,443.15 519.94,444.6 521.3,444.8 C522.85,445.02 524.65,443.27 526.7,442.6 C529.25,441.77 532.6,440.26 535.5,440.4 C538.43,440.54 541.24,442.09 544.2,443.5 C547.62,445.13 551.93,447.58 554.7,449.9 C556.94,451.78 558.14,453.68 560,455.9 C562.2,458.53 564.81,461.16 567,464.7 C569.77,469.17 572.95,477.1 574.6,481 C575.5,483.12 575.87,484.33 576.5,486" fill="none" stroke="#e6007e" stroke-width="1.6" stroke-linejoin="round" stroke-linecap="round"/>
<path d="M394.3,486 C394.63,484.33 394.81,483.25 395.3,481 C396.33,476.29 398.96,466.96 400.5,459.2 C402.24,450.43 403.78,438.32 405,431 C405.78,426.32 406.01,422.41 407,419.5 C407.66,417.56 408.64,416.51 409.4,414.9 C410.21,413.19 410.9,410.92 411.7,409.5 C412.28,408.47 412.72,407.58 413.5,407 C414.26,406.43 415.29,406.07 416.3,406 C417.44,405.93 418.7,406.86 420,406.8 C421.48,406.73 423.32,406.4 424.7,405.3 C426.57,403.81 427.88,400.05 429.3,397.5 C430.63,395.12 431.61,392.19 433,390.5 C434.02,389.26 435.17,387.77 436.3,387.8 C437.56,387.83 439.05,389.69 440.2,391.3 C441.79,393.54 443,397.13 444.1,400.6 C445.41,404.74 446.17,410.86 447.2,414.6 C447.9,417.17 448.49,418.75 449.3,421 C450.22,423.55 451.46,429.11 452.5,429.1 C453.53,429.09 454.64,423.59 455.5,421 C456.28,418.67 456.82,416.88 457.5,414.3 C458.41,410.83 458.87,406.19 460.3,402 C461.91,397.28 464.29,392.04 467,387.5 C469.7,382.98 473.46,376.67 476.5,374.8 C478.24,373.73 479.83,373.78 481.6,373.9 C483.58,374.04 485.95,374.69 487.8,375.9 C489.87,377.25 491.72,380.07 493.2,382 C494.41,383.57 495.16,384.55 496.2,386.5 C497.88,389.65 499.77,394.7 501.6,399.5 C503.82,405.31 506.5,413.5 508.4,419 C509.8,423.04 510.81,426.19 512,429.5 C513.08,432.49 514.08,435.69 515.2,438 C516.04,439.72 516.74,441.1 517.8,442.3 C518.8,443.44 519.94,444.89 521.3,445.1 C522.85,445.34 524.66,443.64 526.7,443 C529.25,442.2 532.6,440.74 535.5,440.9 C538.43,441.06 541.24,442.59 544.2,444 C547.62,445.63 551.92,448.09 554.7,450.4 C556.93,452.25 558.14,454.12 560,456.3 C562.2,458.89 564.81,461.51 567,465 C569.76,469.4 572.96,477.15 574.6,481 C575.5,483.11 575.87,484.33 576.5,486" fill="none" stroke="#ff6dbf" stroke-width="1.45" stroke-linejoin="round" stroke-linecap="round"/>
<path d="M389.2,486 C389.47,484.33 389.66,483.46 390,481 C390.96,474.12 392.97,452.92 394.7,441.7 C396.01,433.23 397.98,424.8 398.9,419.5 C399.41,416.55 399.59,415.07 400,412.6 C400.48,409.73 400.99,406.25 401.6,403.3 C402.17,400.58 402.85,398.09 403.5,395.5 C404.15,392.92 404.86,390.41 405.5,387.8 C406.16,385.11 406.74,382.22 407.4,379.6 C408.01,377.17 408.56,374.84 409.3,372.6 C410.01,370.45 410.51,367.93 411.7,366.4 C412.69,365.12 414.02,363.98 415.5,363.7 C417.19,363.38 419.78,365.66 421.4,365.2 C422.89,364.78 423.89,363.21 425,361.5 C426.71,358.87 428.04,353.71 429.5,350.2 C430.79,347.1 431.91,344 433.3,341.5 C434.45,339.42 435.7,336.23 437,336.1 C438.12,335.99 439.57,337.99 440.5,339.5 C441.69,341.44 442.07,344.3 442.9,347.2 C443.96,350.92 445.21,355.27 446.2,360 C447.4,365.77 448.07,373.58 449.3,379.4 C450.33,384.25 451.37,392.48 452.8,392.6 C454.04,392.71 455.67,386.83 457.1,383.3 C458.91,378.83 461.09,372.1 462.5,367.8 C463.49,364.77 463.94,362.83 464.9,360 C466.07,356.54 467.25,351.84 469.1,348.6 C470.72,345.77 472.85,343.4 475,341.4 C476.98,339.57 479.29,336.85 481.4,336.9 C483.55,336.95 486,339.84 487.8,341.9 C489.71,344.09 490.99,347.07 492.4,349.8 C493.83,352.57 495.17,355.31 496.3,358.4 C497.54,361.8 498.26,365.67 499.4,369.4 C500.59,373.3 502.04,376.86 503.3,381.3 C504.86,386.8 506.07,393.67 507.8,400 C509.61,406.63 512.4,414.94 514,420.2 C515.02,423.57 515.72,425.94 516.5,428.5 C517.17,430.72 517.38,433.3 518.4,434.7 C519.15,435.73 520.36,436.73 521.3,436.7 C522.23,436.67 523.15,435.44 524,434.6 C524.96,433.65 525.68,432.59 526.7,431.2 C528.2,429.15 530.09,425.88 532,423.4 C533.89,420.94 535.87,418.07 538.1,416.4 C539.99,414.98 542.2,414.18 544.2,413.6 C545.99,413.08 547.59,412.72 549.5,412.9 C551.87,413.13 554.93,414.3 557.3,415.5 C559.58,416.66 561.65,418.27 563.5,419.9 C565.27,421.45 566.59,422.85 568.2,425 C570.45,428.01 573.24,432.73 575.2,436.7 C577.08,440.5 578.39,444.63 579.8,448.3 C581.07,451.59 582.02,454.41 583.3,457.7 C584.73,461.37 586.31,465.82 588,469.3 C589.47,472.32 590.92,475.42 592.7,477.5 C594.1,479.14 595.9,480.47 597.3,481.2 C598.26,481.71 599.1,481.73 600,482" fill="none" stroke="#2f6b35" stroke-width="1.6" stroke-linejoin="round" stroke-linecap="round"/>
<path d="M389.2,486 C389.47,484.33 389.66,483.46 390,481 C390.96,474.12 392.87,452.91 394.7,441.7 C396.08,433.22 398,425.44 399.3,419.5 C400.17,415.51 400.84,412.84 401.6,409.5 C402.37,406.14 403.06,402.53 403.9,399.4 C404.64,396.62 405.36,394.09 406.3,391.6 C407.2,389.2 408.23,386.73 409.4,384.7 C410.43,382.92 411.61,381.08 412.8,380 C413.67,379.2 414.39,378.74 415.5,378.4 C416.97,377.95 419.67,378.82 421,378.1 C422.12,377.5 422.53,376.41 423.3,375 C424.61,372.61 426.01,368.18 427.3,364.6 C428.65,360.85 430,356.74 431.2,353 C432.32,349.52 433.16,345.78 434.3,342.9 C435.2,340.63 436.04,337.02 437.2,337 C438.76,336.97 441.54,343.74 442.9,347.5 C444.31,351.39 444.36,355.8 445.4,360 C446.48,364.36 447.94,369.03 449.3,373.2 C450.55,377.03 451.7,384.03 453.2,384.1 C454.78,384.17 456.81,376.36 458.6,372.4 C460.44,368.33 462.3,363.99 464.1,360 C465.79,356.24 467.13,352.23 469.1,349.1 C470.83,346.35 472.85,343.98 475,342 C476.98,340.17 479.28,337.46 481.4,337.5 C483.55,337.54 486,340.37 487.8,342.4 C489.71,344.55 490.99,347.51 492.4,350.2 C493.83,352.94 495.17,355.64 496.3,358.7 C497.54,362.06 498.26,365.92 499.4,369.6 C500.59,373.44 501.96,376.93 503.3,381.3 C504.98,386.79 506.68,394.44 508.5,400 C510.01,404.59 511.54,409.06 513.2,412.4 C514.42,414.86 515.43,417.18 517,418.5 C518.29,419.58 519.93,420.19 521.5,420.3 C523.15,420.41 524.78,419.71 526.7,419 C529.3,418.04 532.51,415.71 535.5,414.6 C538.35,413.54 541.44,412.64 544.2,412.4 C546.64,412.18 548.99,412.37 551.2,412.9 C553.35,413.42 555.32,414.39 557.3,415.5 C559.42,416.69 561.65,418.27 563.5,419.9 C565.27,421.45 566.59,422.85 568.2,425 C570.45,428.01 573.24,432.73 575.2,436.7 C577.08,440.5 578.39,444.63 579.8,448.3 C581.07,451.59 582.02,454.41 583.3,457.7 C584.73,461.37 586.31,465.82 588,469.3 C589.47,472.32 590.92,475.42 592.7,477.5 C594.1,479.14 595.9,480.47 597.3,481.2 C598.26,481.71 599.1,481.73 600,482" fill="none" stroke="#72c86e" stroke-width="1.45" stroke-linejoin="round" stroke-linecap="round"/>
<path d="M386.2,486 C386.5,484.33 386.8,483.52 387.1,481 C388.02,473.37 388.8,445.82 390,434.6 C390.69,428.17 391.51,425.12 392.3,419.5 C393.3,412.43 393.97,402.58 395.4,395.5 C396.57,389.72 398.43,385.29 399.7,380 C401.01,374.56 402,368.35 403.1,363.3 C404.02,359.08 404.95,355.58 405.8,351.7 C406.65,347.81 407.36,343.64 408.2,340 C408.94,336.79 409.36,333.64 410.5,331 C411.51,328.65 412.91,326.09 414.4,324.8 C415.5,323.85 416.8,323.6 418,323.2 C419.13,322.82 420.33,323.06 421.4,322.4 C422.81,321.54 424.16,319.56 425.3,317.8 C426.56,315.85 427.38,313.58 428.5,311.1 C429.86,308.09 431.19,303.64 432.8,301 C434,299.03 435.47,296.41 436.7,296.3 C437.64,296.22 438.56,297.41 439.4,298.6 C440.87,300.68 442.24,305.2 443.3,308.7 C444.39,312.32 445.06,315.66 445.8,320 C446.79,325.8 447.31,335.08 448.3,340.5 C448.96,344.13 449.49,347.06 450.5,349.5 C451.27,351.36 452.38,354.11 453.3,354.1 C454.21,354.09 455.28,351.12 456,349.5 C456.72,347.88 456.87,346.53 457.6,344.4 C458.85,340.75 461.19,335.05 463.1,329.7 C465.36,323.36 467.61,315.52 470.2,308.8 C472.69,302.34 475.4,295.49 478.3,290.1 C480.69,285.66 483.2,278.99 485.9,278.5 C487.94,278.13 490.4,280.8 492.3,283.2 C495.15,286.78 497.41,293.66 499.3,299.5 C501.36,305.85 502.39,313.65 503.9,320 C505.22,325.54 506.69,330.88 507.8,335.5 C508.69,339.22 509.38,341.95 510.1,345.6 C510.94,349.87 511.66,355.33 512.4,359.6 C513.02,363.22 513.54,366.2 514.2,369.6 C514.9,373.16 515.59,377.09 516.5,380.5 C517.32,383.59 518.13,387.54 519.3,389.2 C519.93,390.09 520.7,390.8 521.4,390.8 C522.1,390.8 522.8,390.09 523.5,389.2 C524.9,387.42 526.14,383.13 527.7,379.6 C529.62,375.24 531.86,369.01 534.2,365 C536.03,361.88 537.98,359.69 540,357.2 C541.98,354.76 543.74,352.01 546.2,350.2 C548.67,348.38 552.06,346.44 554.8,346.3 C557.2,346.18 559.56,347.38 561.7,348.6 C563.99,349.91 566.07,351.81 568,354.1 C570.3,356.82 572.39,360.84 574.2,364.2 C575.89,367.34 577.14,369.65 578.6,373.6 C580.88,379.78 583.26,390.95 585.4,398.1 C587.08,403.73 588.64,409.01 590.2,413.1 C591.32,416.03 592.22,418.19 593.5,420.5 C594.73,422.72 596.3,424.63 597.7,426.7" fill="none" stroke="#1c1c1c" stroke-width="1.6" stroke-linejoin="round" stroke-linecap="round"/>
<path d="M386.2,486 C386.5,484.33 386.8,483.52 387.1,481 C388.02,473.37 388.8,445.82 390,434.6 C390.69,428.17 391.51,425.12 392.3,419.5 C393.3,412.43 393.97,402.58 395.4,395.5 C396.57,389.72 398.43,385.29 399.7,380 C401.01,374.56 401.98,367.8 403.1,363.3 C403.87,360.19 404.65,357.47 405.4,355.5 C405.88,354.24 406.23,353.55 406.8,352.5 C407.48,351.24 408.12,349.77 409.3,348.5 C410.81,346.87 413.61,345.6 415.5,343.9 C417.37,342.23 419.19,340.27 420.6,338.4 C421.86,336.73 422.72,335.41 423.7,333.3 C425.11,330.28 426.22,325.72 427.6,321.7 C429.1,317.32 430.67,312.09 432.4,308 C433.87,304.52 435.46,298.97 437.1,298.6 C438.1,298.37 439.3,299.81 440.2,301 C441.51,302.74 442.29,305.87 443.3,308.7 C444.5,312.08 445.76,316.24 446.8,320 C447.82,323.68 448.39,327.62 449.5,331 C450.5,334.03 451.59,339.11 453,339.4 C454.03,339.61 455.51,337.38 456.5,336 C457.62,334.44 458.16,332.91 459.2,330.4 C461.19,325.58 463.9,315.89 466.7,308.8 C469.5,301.69 473.18,293.66 476,287.8 C478.08,283.48 479.56,279.2 481.8,276.7 C483.38,274.93 485.24,273.27 487,273.2 C488.74,273.13 490.61,274.56 492.3,276.2 C494.81,278.64 497.13,283.44 499.3,287.8 C501.86,292.94 504.47,299.66 506.3,305.3 C507.94,310.36 508.85,315.67 510,320 C510.92,323.46 511.61,326.45 512.6,329.3 C513.47,331.83 514.35,334.08 515.5,336.3 C516.63,338.48 517.89,341.11 519.4,342.5 C520.57,343.57 521.97,344.32 523.3,344.5 C524.57,344.67 525.84,344.22 527.2,343.7 C528.9,343.06 530.62,341.56 532.6,340.6 C534.84,339.51 537.3,338.38 540,337.6 C543.06,336.72 547.08,335.51 550.1,335.8 C552.68,336.05 554.83,337.11 557.1,338.5 C559.79,340.15 562.6,342.83 564.9,345.5 C567.29,348.27 569.18,351.32 571.1,354.9 C573.38,359.16 575.26,363.85 577.3,369.6 C580.05,377.36 582.8,389.8 585.4,397.5 C587.28,403.07 588.74,407.37 590.9,411.7 C592.89,415.68 595.43,418.97 597.7,422.6" fill="none" stroke="#606060" stroke-width="1.45" stroke-linejoin="round" stroke-linecap="round"/>
<line x1="421.3" y1="265.6" x2="421.3" y2="478" stroke="#f29030" stroke-width="1.3" stroke-dasharray="4.8 3.57"/>
<line x1="521.1" y1="265.6" x2="521.1" y2="478" stroke="#f29030" stroke-width="1.3" stroke-dasharray="4.8 3.57"/>
</g>
<rect x="382.9" y="265" width="300.3" height="216.8" fill="none" stroke="#000" stroke-width="2"/>
<text x="600.4" y="303.3" font-size="11" fill="#222">WO<tspan font-size="7.48" dy="3.08">3</tspan><tspan dy="-3.08">/CNC</tspan></text>
<line x1="599.4" y1="315.2" x2="625.8" y2="315.2" stroke="#1c1c1c" stroke-width="1.6" />
<text x="628.5" y="319.3" font-size="11" text-anchor="start" fill="#222" >before UV</text>
<line x1="599.4" y1="328.8" x2="625.8" y2="328.8" stroke="#606060" stroke-width="1.5" />
<text x="628.5" y="332.7" font-size="11" text-anchor="start" fill="#222" >after UV</text>
<text x="600.4" y="360.4" font-size="11" fill="#222">CeO<tspan font-size="7.48" dy="3.08">2</tspan><tspan dy="-3.08">/WO</tspan><tspan font-size="7.48" dy="3.08">3</tspan><tspan dy="-3.08">/CNC</tspan></text>
<text x="600.4" y="376.3" font-size="11" text-anchor="start" fill="#222" >0.5/1/10</text>
<line x1="599.4" y1="386.2" x2="625.8" y2="386.2" stroke="#2f6b35" stroke-width="1.6" />
<text x="628.5" y="390.1" font-size="11" text-anchor="start" fill="#222" >before UV</text>
<line x1="599.4" y1="399.7" x2="625.8" y2="399.7" stroke="#72c86e" stroke-width="1.5" />
<text x="628.5" y="403.7" font-size="11" text-anchor="start" fill="#222" >after UV</text>
<text x="600.4" y="430.7" font-size="11" fill="#222">CeO<tspan font-size="7.48" dy="3.08">2</tspan><tspan dy="-3.08">/WO</tspan><tspan font-size="7.48" dy="3.08">3</tspan><tspan dy="-3.08">/CNC</tspan></text>
<text x="600.4" y="446.8" font-size="11" text-anchor="start" fill="#222" >1/1/10</text>
<line x1="599.4" y1="456.7" x2="625.8" y2="456.7" stroke="#e6007e" stroke-width="1.6" />
<text x="628.5" y="460.9" font-size="11" text-anchor="start" fill="#222" >before UV</text>
<line x1="599.4" y1="470.2" x2="625.8" y2="470.2" stroke="#ff6dbf" stroke-width="1.5" />
<text x="628.5" y="474.3" font-size="11" text-anchor="start" fill="#222" >after UV</text>
</svg>
</body></html>
